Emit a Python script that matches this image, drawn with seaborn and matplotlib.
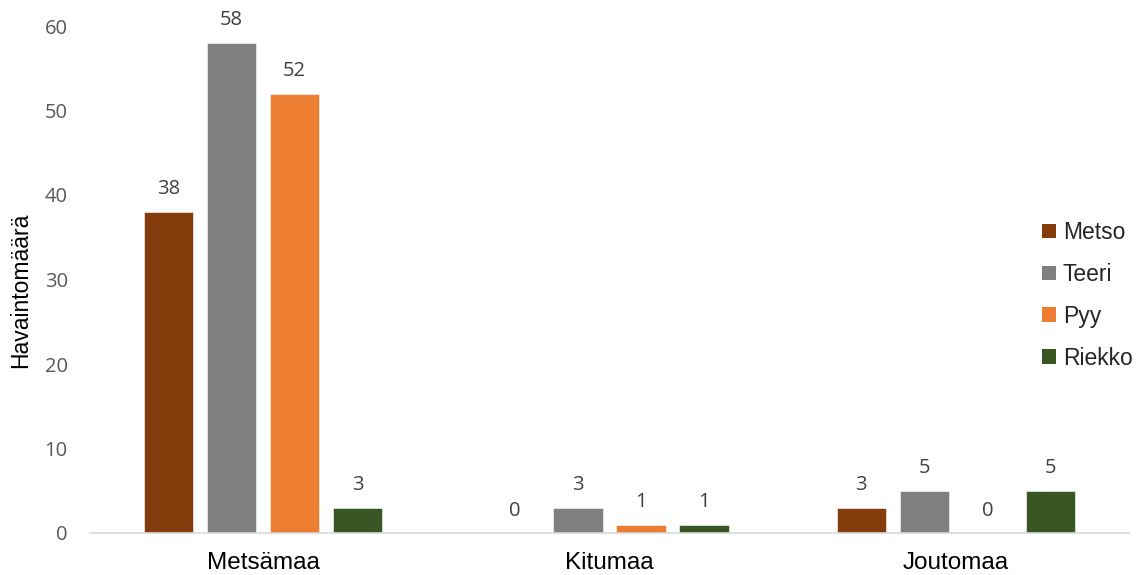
import matplotlib
matplotlib.use("Agg")
import matplotlib.pyplot as plt
import seaborn as sns
import pandas as pd
from matplotlib.patches import Patch

# Observation counts per land class and species
land_classes = ["Metsämaa", "Kitumaa", "Joutomaa"]
species = ["Metso", "Teeri", "Pyy", "Riekko"]
metso = [38, 0, 3]
teeri = [58, 3, 5]
pyy = [52, 1, 0]
riekko = [3, 1, 5]

colors = ["#843C0C", "#7F7F7F", "#ED7D31", "#375623"]

rows = []
for sp, vals in zip(species, [metso, teeri, pyy, riekko]):
    for lc, v in zip(land_classes, vals):
        rows.append({"Maaluokka": lc, "Laji": sp, "Havaintomäärä": v})
df = pd.DataFrame(rows)

sns.set_theme(style="white")
plt.rcParams["font.family"] = ["Liberation Sans", "DejaVu Sans"]

fig = plt.figure(figsize=(11.41, 5.75), dpi=100)
ax = fig.add_axes([90 / 1141, 42 / 575, 1039 / 1141, 507 / 575])

sns.barplot(data=df, x="Maaluokka", y="Havaintomäärä", hue="Laji",
            hue_order=species, order=land_classes, palette=colors,
            saturation=1, width=0.728, gap=0.22, ax=ax, legend=False,
            edgecolor="white", linewidth=0.4)

for cont in ax.containers:
    ax.bar_label(cont, fmt="%d", padding=9, fontsize=14.5,
                 color="#404040", family=["Open Sans", "DejaVu Sans"])

ax.set_ylim(0, 60)
ax.set_xlim(-0.5, 2.5)
ax.set_yticks(range(0, 61, 10))
ax.tick_params(axis="y", labelsize=14.5, labelcolor="#595959", length=0, pad=16)
ax.tick_params(axis="x", labelsize=17.5, labelcolor="black", length=0, pad=14)
for lab in ax.get_yticklabels():
    lab.set_fontfamily(["Open Sans", "DejaVu Sans"])

ax.set_xlabel("")
ax.set_ylabel("")
fig.text(21 / 1141, 1 - 290 / 575, "Havaintomäärä", rotation=90,
         ha="center", va="center", fontsize=16.5, color="black")

for side in ["top", "right", "left"]:
    ax.spines[side].set_visible(False)
ax.spines["bottom"].set_color("#D9D9D9")
ax.spines["bottom"].set_linewidth(1.2)
ax.grid(False)

handles = [Patch(facecolor=c, edgecolor="none") for c in colors]
fig.legend(handles, species, loc="upper left",
           bbox_to_anchor=(1033 / 1141, 1 - 212 / 575),
           frameon=False, fontsize=16.5, handlelength=0.6, handleheight=0.6,
           handletextpad=0.3, labelspacing=0.82, borderaxespad=0)

fig.savefig("out.png", dpi=100)
